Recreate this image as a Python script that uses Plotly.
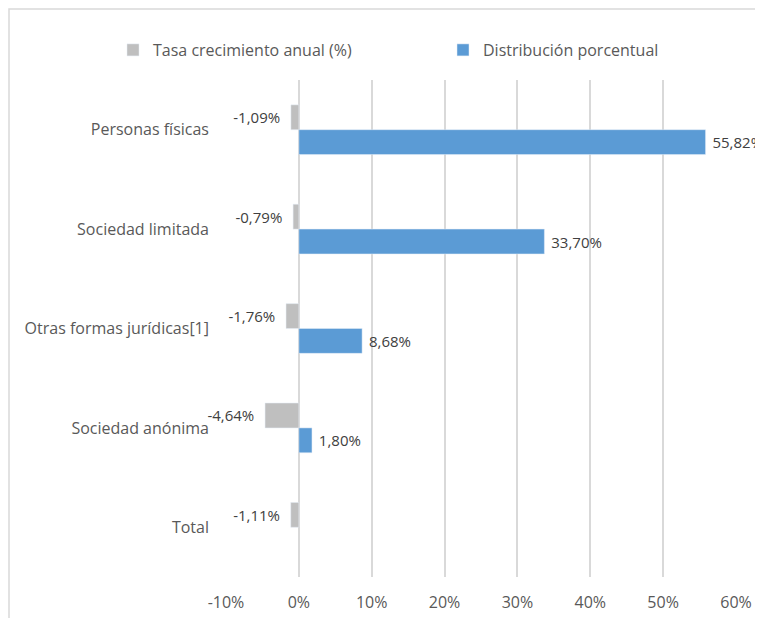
import plotly.graph_objects as go

categories = ["Personas físicas", "Sociedad limitada", "Otras formas jurídicas[1]", "Sociedad anónima", "Total"]
tasa = [-1.09, -0.79, -1.76, -4.64, -1.11]
distribucion = [55.82, 33.70, 8.68, 1.80, None]
tick_vals = [-10, 0, 10, 20, 30, 40, 50, 60]
tick_text = ["-10%", "0%", "10%", "20%", "30%", "40%", "50%", "60%"]

def fmt(v):
    return "" if v is None else f"{v:.2f}".replace(".", ",") + "%"

FONT = "Open Sans"
W, H = 755, 610
L, R, T, B = 218, 27, 72, 41
FS = 16
NB = "\u00a0"

fig = go.Figure()
fig.add_trace(go.Bar(
    y=categories, x=tasa, orientation="h", name="Tasa crecimiento anual (%)",
    marker=dict(color="#bfbfbf"), text=[fmt(v) + NB + NB for v in tasa],
    textposition="outside", textfont=dict(family=FONT, size=15, color="#404040"),
    cliponaxis=False, legend="legend",
))
fig.add_trace(go.Bar(
    y=categories, x=distribucion, orientation="h", name="Distribución porcentual",
    marker=dict(color="#5b9bd5"),
    text=["" if v is None else NB + fmt(v) for v in distribucion],
    textposition="outside", textfont=dict(family=FONT, size=15, color="#404040"),
    cliponaxis=False, legend="legend2",
))

pw = W - L - R
ph = H - T - B
fig.add_shape(type="rect", xref="paper", yref="paper",
              x0=(1 - L) / pw, x1=(W + 20 - L) / pw,
              y0=-(B + 20) / ph, y1=(H - B - 1) / ph,
              line=dict(color="#d9d9d9", width=1.5), fillcolor="rgba(0,0,0,0)", layer="below")

fig.update_layout(
    width=W, height=H, margin=dict(l=L, r=R, t=T, b=B, autoexpand=False),
    paper_bgcolor="white", plot_bgcolor="white",
    barmode="group", bargap=0.5, bargroupgap=0,
    showlegend=True,
    font=dict(family=FONT, size=FS, color="#595959"),
    xaxis=dict(range=[-10, 60], tickvals=tick_vals, ticktext=tick_text,
               showgrid=True, gridcolor="#d9d9d9", gridwidth=1.5, zeroline=False,
               showline=False, ticks="", ticklabelstandoff=14, automargin=False,
               tickfont=dict(family=FONT, size=FS, color="#595959")),
    yaxis=dict(autorange="reversed", showgrid=False, zeroline=False, showline=False,
               ticks="", ticklabelstandoff=16, automargin=False,
               tickfont=dict(family=FONT, size=FS, color="#595959")),
    legend=dict(orientation="h", xref="container", yref="container",
                x=105 / W, y=1 - 25 / H, xanchor="left", yanchor="top",
                font=dict(family=FONT, size=FS, color="#595959"), bgcolor="rgba(0,0,0,0)"),
    legend2=dict(orientation="h", xref="container", yref="container",
                 x=435 / W, y=1 - 25 / H, xanchor="left", yanchor="top", visible=True,
                 font=dict(family=FONT, size=FS, color="#595959"), bgcolor="rgba(0,0,0,0)"),
)

fig.write_html("out.html")
